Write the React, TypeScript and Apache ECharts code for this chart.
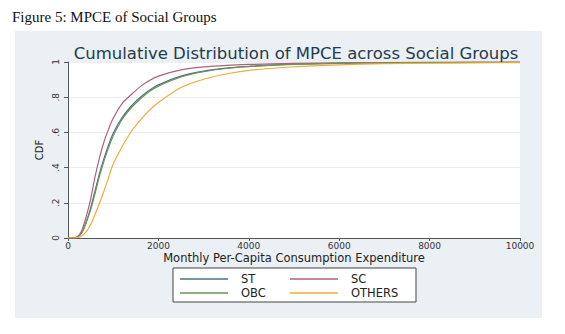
import React, { useEffect, useRef } from "react";
import * as echarts from "echarts";

const xValues = [0, 100, 200, 300, 400, 500, 600, 700, 800, 900, 1000, 1200, 1400, 1600, 1800, 2000, 2500, 3000, 3500, 4000, 5000, 6000, 7000, 8000, 9000, 10000];
const stCdf = [0, 0, 0.005, 0.03, 0.09, 0.17, 0.27, 0.37, 0.455, 0.53, 0.595, 0.685, 0.75, 0.8, 0.84, 0.87, 0.92, 0.948, 0.965, 0.976, 0.988, 0.993, 0.996, 0.998, 0.999, 1];
const scCdf = [0, 0, 0.005, 0.04, 0.12, 0.22, 0.35, 0.46, 0.55, 0.62, 0.68, 0.765, 0.815, 0.86, 0.895, 0.92, 0.955, 0.972, 0.981, 0.986, 0.992, 0.995, 0.997, 0.998, 0.999, 1];
const obcCdf = [0, 0, 0.004, 0.027, 0.085, 0.16, 0.255, 0.355, 0.44, 0.515, 0.58, 0.675, 0.74, 0.79, 0.832, 0.863, 0.915, 0.945, 0.963, 0.974, 0.986, 0.992, 0.995, 0.997, 0.998, 0.999];
const othersCdf = [0, 0, 0.002, 0.012, 0.035, 0.075, 0.135, 0.2, 0.27, 0.345, 0.42, 0.52, 0.605, 0.67, 0.725, 0.77, 0.855, 0.902, 0.932, 0.952, 0.973, 0.984, 0.99, 0.993, 0.995, 0.997];
const seriesNames = ["ST", "SC", "OBC", "OTHERS"];
const seriesColors = ["#4f6f8f", "#b0607c", "#6a9458", "#f0ab38"];
const xTicks = [0, 2000, 4000, 6000, 8000, 10000];
const yTickLabels = ["0", ".2", ".4", ".6", ".8", "1"];

export default function App() {
  const ref = useRef<HTMLDivElement>(null);
  useEffect(() => {
    if (!ref.current) return;
    const chart = echarts.init(ref.current, undefined, { renderer: "svg" });
    const all = [stCdf, scCdf, obcCdf, othersCdf];
    const legendPos = [
      { left: 180, top: 273 },
      { left: 290, top: 273 },
      { left: 180, top: 287 },
      { left: 290, top: 287 },
    ];
    const legends = seriesNames.map((name, i) => ({
      ...legendPos[i],
      data: [name],
      itemWidth: 48,
      itemHeight: 1.4,
      icon: "rect",
      textStyle: { fontSize: 11.5, color: "#222", fontFamily: "DejaVu Sans", padding: [0, 0, 0, 8] },
      padding: 0,
    }));
    chart.setOption({
      animation: false,
      backgroundColor: "#ffffff",
      graphic: [
        { type: "rect", shape: { x: 15, y: 31, width: 527, height: 287 }, style: { fill: "#eaf0f4" }, z: -10 },
        { type: "text", x: 12, y: 9, style: { text: "Figure 5: MPCE of Social Groups", font: "15px 'Liberation Serif'", fill: "#111" } },
        { type: "rect", shape: { x: 173, y: 268, width: 243, height: 34 }, style: { fill: "#ffffff", stroke: "#444", lineWidth: 1 }, z: 0 },
      ],
      title: {
        text: "Cumulative Distribution of MPCE across Social Groups",
        left: 291,
        textAlign: "center",
        top: 40,
        textStyle: { fontSize: 16.5, fontWeight: "normal", color: "#243a4e", fontFamily: "DejaVu Sans" },
      },
      legend: legends,
      grid: { left: 68, right: 45, top: 62, bottom: 96, show: true, backgroundColor: "#ffffff", borderWidth: 0 },
      xAxis: {
        type: "value",
        min: 0,
        max: 10000,
        interval: 2000,
        name: "Monthly Per-Capita Consumption Expenditure",
        nameLocation: "middle",
        nameGap: 14,
        nameMoveOverlap: false,
        nameTextStyle: { fontSize: 11.5, color: "#222", fontFamily: "DejaVu Sans", verticalAlign: "top", lineHeight: 12 },
        axisLine: { lineStyle: { color: "#555", width: 1 } },
        axisTick: { length: 3, lineStyle: { color: "#555" } },
        axisLabel: { fontSize: 9, color: "#333", margin: 3, lineHeight: 10, fontFamily: "DejaVu Sans", formatter: (v: number) => (xTicks.includes(v) ? String(v) : "") },
        splitLine: { show: false },
      },
      yAxis: {
        type: "value",
        min: 0,
        max: 1,
        interval: 0.2,
        name: "CDF",
        nameLocation: "middle",
        nameGap: 24,
        nameMoveOverlap: false,
        nameRotate: 90,
        nameTextStyle: { fontSize: 10, color: "#222", fontFamily: "DejaVu Sans" },
        axisLine: { show: true, lineStyle: { color: "#555", width: 1 } },
        axisTick: { show: true, length: 4, lineStyle: { color: "#555" } },
        axisLabel: {
          fontSize: 9,
          color: "#333",
          rotate: 90,
          margin: 8,
          fontFamily: "DejaVu Sans",
          formatter: (v: number) => yTickLabels[Math.round(v * 5)] ?? "",
        },
        splitLine: { show: true, lineStyle: { color: "#eceff2", width: 1 } },
      },
      series: seriesNames.map((name, i) => ({
        name,
        type: "line",
        data: xValues.map((x, j) => [x, all[i][j]]),
        smooth: 0.3,
        showSymbol: false,
        lineStyle: { color: seriesColors[i], width: 1.2 },
        itemStyle: { color: seriesColors[i] },
        z: 3,
      })),
    });
    return () => chart.dispose();
  }, []);
  return <div ref={ref} style={{ position: "absolute", left: 0, top: 0, width: 565, height: 334 }} />;
}
